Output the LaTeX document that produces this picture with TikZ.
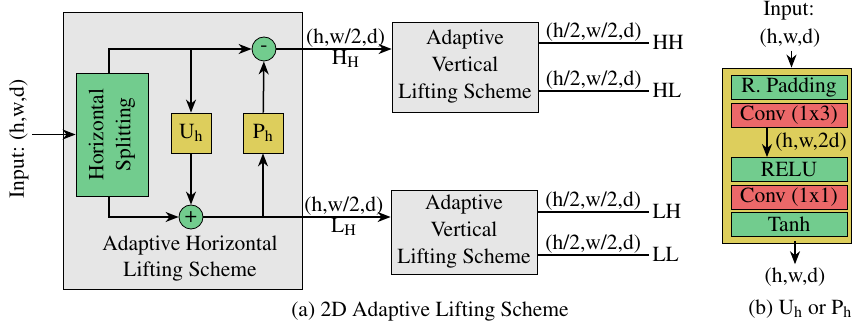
\documentclass[tikz,border=0pt]{standalone}
\usepackage[T1]{fontenc}
\usepackage{mathptmx}
\usetikzlibrary{arrows.meta, calc}
\definecolor{liftgray}{rgb}{0.902, 0.902, 0.902}
\definecolor{liftgreen}{rgb}{0.447, 0.800, 0.557}
\definecolor{liftyellow}{rgb}{0.867, 0.808, 0.361}
\definecolor{liftred}{rgb}{0.925, 0.408, 0.412}

\tikzset{
    arr/.style={line width=1.5pt, -{Stealth[length=13pt, width=10pt, inset=4pt]}},
    wire/.style={line width=1.5pt},
    box/.style={draw, line width=0.8pt, inner sep=0pt},
    op/.style={draw, circle, fill=liftgreen, line width=0.8pt, minimum size=24pt, inner sep=0pt},
    layer/.style={draw, line width=0.8pt, minimum width=116pt, minimum height=24pt, inner sep=0pt},
}

\begin{document}
\begin{tikzpicture}[x=1pt, y=-1pt, font=\fontsize{21.5}{27}\selectfont]
        \useasboundingbox (0,0) rectangle (852,323);

        % (a) horizontal lifting
        \node [box, fill=liftgray, minimum width=239pt, minimum height=277pt] (hls) at (182.5, 150.5) {};
        \node [anchor=center] (hlsname) at (190, 258) {\begin{tabular}{c}Adaptive Horizontal\\[-1pt]Lifting Scheme\end{tabular}};
        \node [box, fill=liftgreen, minimum width=72pt, minimum height=123pt] (split) at (112, 134.5) {};
        \node [rotate=90, align=center] (splittext) at (split) {Horizontal\\Splitting};
        \node [rotate=90] (inp) at (19, 139) {Input: (h,w,d)};

        \node [box, fill=liftyellow, minimum width=40pt, minimum height=40pt] (uh) at (191, 133) {U\textsubscript{h}};
        \node [box, fill=liftyellow, minimum width=40pt, minimum height=40pt] (ph) at (263, 133) {P\textsubscript{h}};
        \node [op] (minus) at (264, 49) {-};
        \node [op] (plus) at (191, 217) {+};

        \draw [arr] (inp.south |- split.west) -- (split.west);
        \draw [arr] ([xshift=-3pt]split.north) |- (minus);
        \draw [arr] (uh.north |- minus) -- (uh);
        \draw [arr] (uh) -- (plus);
        \draw [arr] ([xshift=-3pt]split.south) |- (plus);
        \draw [arr] (ph.south |- plus) -- (ph);
        \draw [arr] (ph) -- (minus);

        % vertical lifting
        \node [box, fill=liftgray, minimum width=146pt, minimum height=90pt] (vtop) at (465, 67) {};
        \node [box, fill=liftgray, minimum width=146pt, minimum height=84pt] (vbot) at (464, 232) {};
        \node [align=center] (vtoptext) at (vtop) {Adaptive\\Vertical\\Lifting Scheme};
        \node [align=center] (vbottext) at (vbot) {Adaptive\\Vertical\\Lifting Scheme};

        \draw [arr] (minus) -- (minus -| vtop.west)
            node [pos=0.6, above, inner sep=1pt] (hdim) {(h,w/2,d)}
            node [pos=0.6, below, inner sep=1pt] (hname) {H\textsubscript{H}};
        \draw [arr] (plus) -- (plus -| vbot.west)
            node [pos=0.75, above, inner sep=1pt] (ldim) {(h,w/2,d)}
            node [pos=0.75, below, inner sep=1pt] (lname) {L\textsubscript{H}};

        \node [anchor=west] (hh) at (649, 43) {HH};
        \node [anchor=west] (hl) at (649, 91) {HL};
        \node [anchor=west] (lh) at (649, 212) {LH};
        \node [anchor=west] (ll) at (649, 255) {LL};

        \draw [wire] (vtop.east |- hh.west) -- (hh.west) node [midway, above, inner sep=1pt] (hhdim) {(h/2,w/2,d)};
        \draw [wire] (vtop.east |- hl.west) -- (hl.west) node [midway, above, inner sep=1pt] (hldim) {(h/2,w/2,d)};
        \draw [wire] (vbot.east |- lh.west) -- (lh.west) node [midway, above, inner sep=1pt] (lhdim) {(h/2,w/2,d)};
        \draw [wire] (vbot.east |- ll.west) -- (ll.west) node [midway, above, inner sep=1pt] (lldim) {(h/2,w/2,d)};

        \node (capa) at (430, 312) {(a) 2D Adaptive Lifting Scheme};

        % (b) U_h or P_h
        \node (inlabel) at (789, 11) {Input:};
        \node (insize) at (790, 38) {(h,w,d)};
        \node [box, fill=liftyellow, minimum width=129pt, minimum height=175pt] (block) at (786.5, 155.5) {};
        \node [layer, fill=liftgreen] (pad) at (789, 87.5) {R. Padding};
        \node [layer, fill=liftred] (conva) at (789, 115.5) {Conv (1x3)};
        \node [layer, fill=liftgreen] (relu) at (789, 169.5) {RELU};
        \node [layer, fill=liftred] (convb) at (789, 197) {Conv (1x1)};
        \node [layer, fill=liftgreen] (tanh) at (789, 224) {Tanh};
        \node (midsize) at (811, 142) {(h,w,2d)};
        \node (outsize) at (795, 277) {(h,w,d)};

        \draw [arr] (insize.south -| block.north) ++(5pt,0) coordinate (intop) -- (intop |- block.north);
        \draw [arr] ([xshift=-22pt]conva.south) -- ([xshift=-22pt]relu.north);
        \draw [arr] (outsize.north |- block.south) ++(0,2pt) coordinate (outtop) -- (outsize.north);

        \node (capb) at (800, 309) {(b) U\textsubscript{h} or P\textsubscript{h}};
    \end{tikzpicture}
\end{document}
